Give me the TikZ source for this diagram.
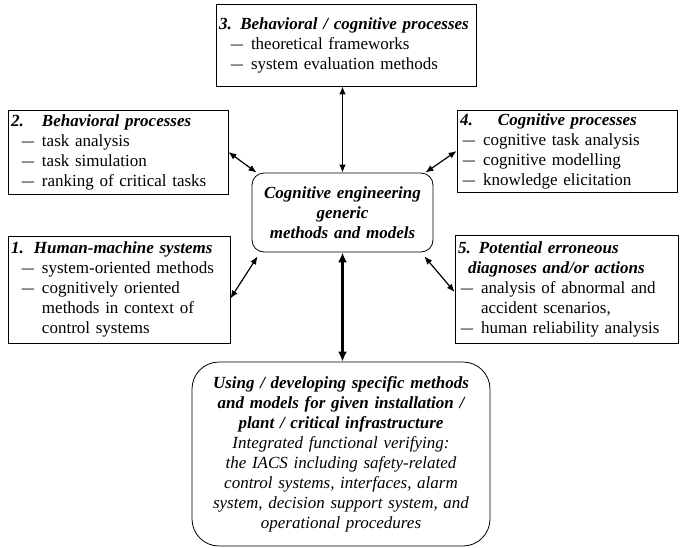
\documentclass[tikz,border=0pt]{standalone}
\usepackage{fontspec}
\setmainfont{Liberation Serif}
\usetikzlibrary{arrows.meta}
\newcommand{\bi}[1]{\textbf{\textit{#1}}}
\newcommand{\itm}[2][31pt]{\par\noindent\makebox[#1][r]{\scalebox{0.72}[1]{—}\hspace{8pt}}#2}
\newcommand{\cont}[2][31pt]{\par\noindent\hspace*{#1}#2}

\begin{document}
\begin{tikzpicture}[x=1pt,y=-1pt,font=\fontsize{17}{20}\selectfont,
  plainbox/.style={draw,line width=0.8pt,align=left,inner xsep=3pt,inner ysep=0pt},
  roundbox/.style={draw,line width=0.8pt,align=center,inner sep=0pt},
  arr/.style={line width=1.2pt,{Latex[length=8pt,width=6.5pt]}-{Latex[length=8pt,width=6.5pt]}},
  tharr/.style={line width=2.6pt,{Latex[length=10pt,width=9pt]}-{Latex[length=10pt,width=9pt]}}]
  \useasboundingbox (0,0) rectangle (683,547);
  % outer boxes
  \node[plainbox,minimum width=260pt,minimum height=82pt,text width=254pt] (bcp) at (346,45)
    {\mbox{\bi{3. Behavioral / cognitive processes}}\itm[32pt]{theoretical frameworks}\itm[32pt]{system evaluation methods}\par\vspace*{6pt}};
  \node[plainbox,minimum width=220pt,minimum height=84pt,text width=214pt] (bp) at (118,152)
    {\mbox{\bi{\makebox[31pt][l]{2.}Behavioral processes}}\itm{task analysis}\itm{task simulation}\itm{ranking of critical tasks}};
  \node[plainbox,minimum width=220pt,minimum height=82pt,text width=214pt] (cp) at (567,151)
    {\mbox{\bi{\makebox[38pt][l]{4.}Cognitive processes}}\itm[23pt]{cognitive task analysis}\itm[23pt]{cognitive modelling}\itm[23pt]{knowledge elicitation}};
  \node[plainbox,minimum width=222pt,minimum height=107pt,text width=216pt] (hms) at (119,289.5)
    {\mbox{\bi{\makebox[23pt][l]{1.}Human-machine systems}}\itm{system-oriented methods}\itm{cognitively oriented}\cont{methods in context of}\cont{control systems}};
  \node[plainbox,minimum width=223pt,minimum height=108pt,text width=217pt] (ped) at (566.5,289)
    {\mbox{\bi{\makebox[21pt][l]{5.}Potential erroneous}}\cont[10pt]{\bi{diagnoses and/or actions}}\itm[23pt]{analysis of abnormal and}\cont[23pt]{accident scenarios,}\itm[23pt]{human reliability analysis}};
  % core and specific boxes
  \node[roundbox,rounded corners=12pt,minimum width=181pt,minimum height=79pt,text width=181pt] (core) at (342.5,212.5)
    {\bfseries\itshape Cognitive engineering\\ generic\\ methods and models};
  \node[roundbox,rounded corners=27pt,minimum width=298pt,minimum height=184pt,text width=298pt] (spec) at (341,454)
    {\bfseries\itshape Using / developing specific methods\\ and models for given installation /\\ plant / critical infrastructure\\
     \mdseries Integrated functional verifying:\\ the IACS including safety-related\\ control systems, interfaces, alarm\\ system, decision support system, and\\ operational procedures};
  % connectors
  \draw[arr] (bcp.south -| core.north) -- (core.north);
  \draw[arr] (bp.east) -- ([xshift=5pt]core.north west);
  \draw[arr] ([xshift=-8pt]core.north east) -- (cp.west);
  \draw[arr] ([yshift=-9pt]hms.east) -- ([xshift=6pt,yshift=-4pt]core.south west);
  \draw[arr] ([xshift=-9pt,yshift=-4pt]core.south east) -- ([yshift=-3pt]ped.west);
  \draw[tharr] (core.south) -- (core.south |- spec.north);
\end{tikzpicture}
\end{document}
